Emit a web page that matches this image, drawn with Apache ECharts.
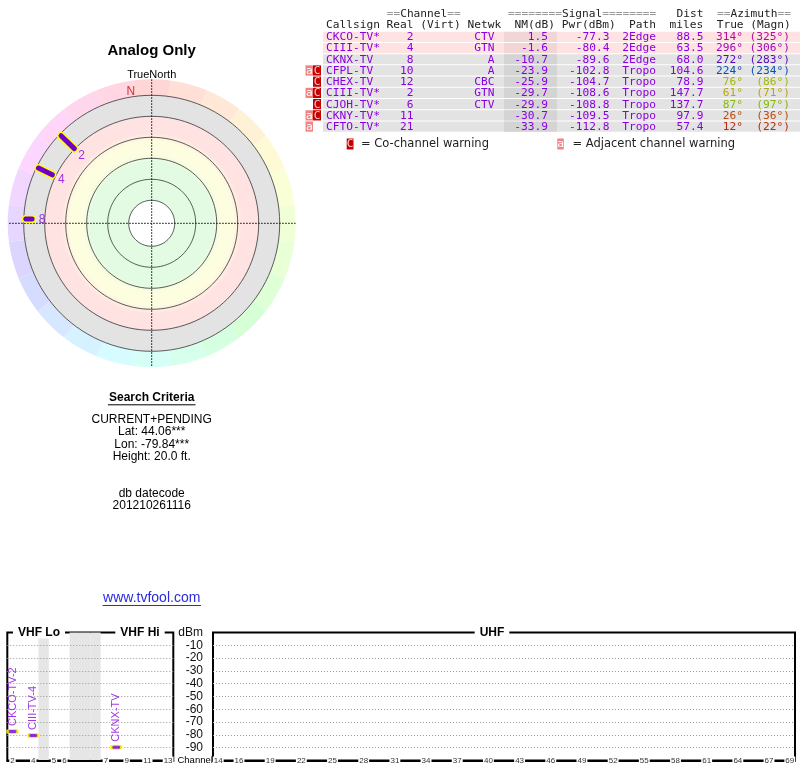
<!DOCTYPE html>
<html>
<head>
<meta charset="utf-8">
<script src="https://cdn.jsdelivr.net/npm/echarts@6/dist/echarts.min.js"></script>
<style>
  html, body { margin: 0; padding: 0; background: #fff; }
  #chart { width: 800px; height: 768px; }
</style>
</head>
<body>
<div id="chart"></div>
<script>
// station table
var callsigns = ['CKCO-TV*', 'CIII-TV*', 'CKNX-TV', 'CFPL-TV', 'CHEX-TV', 'CIII-TV*', 'CJOH-TV*', 'CKNY-TV*', 'CFTO-TV*'];
var realChannels = [2, 4, 8, 10, 12, 2, 6, 11, 21];
var networks = ['CTV', 'GTN', 'A', 'A', 'CBC', 'GTN', 'CTV', '', ''];
var nmDb = [1.5, -1.6, -10.7, -23.9, -25.9, -29.7, -29.9, -30.7, -33.9];
var pwrDbm = [-77.3, -80.4, -89.6, -102.8, -104.7, -108.6, -108.8, -109.5, -112.8];
var paths = ['2Edge', '2Edge', '2Edge', 'Tropo', 'Tropo', 'Tropo', 'Tropo', 'Tropo', 'Tropo'];
var distMiles = [88.5, 63.5, 68.0, 104.6, 78.9, 147.7, 137.7, 97.9, 57.4];
var azTrue = [314, 296, 272, 224, 76, 61, 87, 26, 12];
var azMagn = [325, 306, 283, 234, 86, 71, 97, 36, 22];
var adjWarn = [false, false, false, true, false, true, false, true, true];
var coWarn = [false, false, false, true, true, true, true, true, false];

// polar rings (NM dB), outermost is the plotting floor
var ringLevels = [-19, 2, 23, 44, 65, 86];

// spectrum axes
var vhfSlots = ['2', '3', '4', 'gap', '5', '6', 'fm1', 'fm2', 'fm3', '7', '8', '9', '10', '11', '12', '13'];
var vhfGaps = ['gap', 'fm1', 'fm2', 'fm3'];
var vhfTickLabels = ['2', '4', '5', '6', '7', '9', '11', '13'];
var uhfSlots = [];
for (var c = 14; c <= 69; c++) uhfSlots.push(String(c));
var uhfTickLabels = ['14', '16', '19', '22', '25', '28', '31', '34', '37', '40', '43', '46', '49', '52', '55', '58', '61', '64', '67', '69'];

var searchLines = ['CURRENT+PENDING', 'Lat: 44.06***', 'Lon: -79.84***', 'Height: 20.0 ft.'];
var dateLines = ['db datecode', '201210261116'];

var purple = '#8a00e0';
var markPurple = '#6f00cc';
var mono = '"DejaVu Sans Mono", monospace';
var sans = '"Liberation Sans", Arial, sans-serif';

function hueFor(az) {
  return az <= 135 ? az * 120 / 135 : 120 + (az - 135) * 240 / 225;
}
function azColor(az) { return 'hsl(' + hueFor(az).toFixed(0) + ',90%,38%)'; }
function ringColor(az) { return 'hsl(' + hueFor(az).toFixed(0) + ',100%,92%)'; }

var chart = echarts.init(document.getElementById('chart'));
var graphics = [];

function txt(str, x, y, font, fill, align, extra) {
  var st = { text: str, x: x, y: y, font: font, fill: fill, textAlign: align || 'center', textVerticalAlign: 'middle' };
  if (extra) for (var k in extra) st[k] = extra[k];
  graphics.push({ type: 'text', z: 100, silent: true, style: st });
}
function rect(x, y, w, h, fill) {
  graphics.push({ type: 'rect', z: 50, silent: true, shape: { x: x, y: y, width: w, height: h }, style: { fill: fill } });
}
function hline(x1, x2, y, color) {
  graphics.push({ type: 'line', z: 100, silent: true, shape: { x1: x1, y1: y, x2: x2, y2: y }, style: { stroke: color, lineWidth: 1 } });
}

// ---- table ----
var tFont = '11.2px ' + mono;
var charW = 6.74, tX = 326;
var head1 = [[9, '==', 1], [11, 'Channel', 0], [18, '==', 1], [27, '========', 1], [35, 'Signal', 0],
             [41, '========', 1], [52, 'Dist', 0], [58, '==', 1], [60, 'Azimuth', 0], [67, '==', 1]];
head1.forEach(function (h) {
  txt(h[1], tX + h[0] * charW, 14, tFont, h[2] ? '#9a9a9a' : '#222', 'left');
});
txt('Callsign Real (Virt) Netwk  NM(dB) Pwr(dBm)  Path  miles  True (Magn)', tX, 25.5, tFont, '#222', 'left');

var rowH = 11.22;
callsigns.forEach(function (cs, i) {
  var top = 31.7 + i * rowH, cy = 37.3 + i * rowH;
  var pink = nmDb[i] > -5;
  rect(323, top, 477, rowH - 1, pink ? '#ffe3e3' : '#e3e3e3');
  rect(504, top, 53, rowH - 1, pink ? '#f2d6d6' : '#d4d4d4');
  if (adjWarn[i]) { rect(305.5, top, 7.5, rowH - 1, '#f08484'); txt('a', 309.3, cy, tFont, '#fff'); }
  if (coWarn[i]) { rect(313, top, 8, rowH - 1, '#c40000'); txt('C', 317, cy, tFont, '#ffc8c8'); }
  var cells = [
    [cs, 326, 'left', purple],
    [String(realChannels[i]), 413.5, 'right', purple],
    [networks[i], 494.5, 'right', purple],
    [nmDb[i].toFixed(1), 548, 'right', purple],
    [pwrDbm[i].toFixed(1), 609.5, 'right', purple],
    [paths[i], 656, 'right', purple],
    [distMiles[i].toFixed(1), 703.5, 'right', purple],
    [azTrue[i] + '°', 743, 'right', azColor(azTrue[i])],
    ['(' + azMagn[i] + '°)', 790, 'right', azColor(azTrue[i])]
  ];
  cells.forEach(function (cl) { if (cl[0]) txt(cl[0], cl[1], cy, tFont, cl[3], cl[2]); });
});
rect(346.7, 138.5, 6.8, 11, '#c40000'); txt('C', 350.1, 144, tFont, '#ffc8c8');
txt('= Co-channel warning', 361, 144, '11.5px "DejaVu Sans", sans-serif', '#222', 'left');
rect(557.3, 138.5, 6.5, 11, '#f08484'); txt('a', 560.5, 144, tFont, '#fff');
txt('= Adjacent channel warning', 572.5, 144, '11.5px "DejaVu Sans", sans-serif', '#222', 'left');

// ---- polar captions and search criteria ----
txt('Analog Only', 151.7, 51, 'bold 15px ' + sans, '#000');
txt('TrueNorth', 151.7, 74.5, '11px ' + sans, '#000');
txt('Search Criteria', 151.7, 397.7, 'bold 12px ' + sans, '#000');
hline(108, 195.5, 404.8, '#000');
searchLines.forEach(function (s, i) { txt(s, 151.7, 419.5 + i * 12.4, '12px ' + sans, '#000'); });
dateLines.forEach(function (s, i) { txt(s, 151.7, 494 + i * 12, '12px ' + sans, '#000'); });
txt('www.tvfool.com', 151.7, 598, '14px ' + sans, '#2a2ae0');
hline(102.5, 201, 605.5, '#2a2ae0');

// ---- spectrum frame titles ----
var frameTitle = { backgroundColor: '#fff', padding: [0, 5] };
txt('VHF Lo', 39, 632.5, 'bold 12px ' + sans, '#000', 'center', frameTitle);
txt('VHF Hi', 140, 632.5, 'bold 12px ' + sans, '#000', 'center', frameTitle);
txt('UHF', 492, 632.5, 'bold 12px ' + sans, '#000', 'center', frameTitle);

// ---- series ----
var series = [];
var polarCenter = [151.7, 223.3];
var hidden = 'rgba(0,0,0,0)';

// signal bands behind the rings
series.push({
  type: 'pie', center: polarCenter, radius: [23, 128], silent: true, z: 1, startAngle: 90,
  label: { show: false }, labelLine: { show: false },
  itemStyle: { borderWidth: 0 },
  data: [{ value: 1, itemStyle: { color: new echarts.graphic.RadialGradient(0.5, 0.5, 0.5, [
    { offset: 0, color: '#e2fbe2' }, { offset: 0.48, color: '#e2fbe2' },
    { offset: 0.54, color: '#fdfde0' }, { offset: 0.64, color: '#fdfde0' },
    { offset: 0.71, color: '#ffe2e2' }, { offset: 0.834, color: '#ffe2e2' },
    { offset: 0.837, color: '#e3e3e3' }, { offset: 1, color: '#e3e3e3' }
  ]) } }]
});

// compass hue ring
var ringData = [];
for (var s = 0; s < 24; s++) ringData.push({ value: 1, itemStyle: { color: ringColor(s * 15) } });
series.push({
  type: 'pie', center: polarCenter, radius: [128, 144], silent: true, z: 1, startAngle: 97.5,
  label: { show: false }, labelLine: { show: false },
  itemStyle: { borderWidth: 0 }, data: ringData
});

// range rings
ringLevels.forEach(function (lv) {
  var pts = [];
  for (var a = 0; a <= 360; a += 3) pts.push([lv, a]);
  series.push({
    type: 'line', coordinateSystem: 'polar', data: pts, symbol: 'none', silent: true, z: 3,
    lineStyle: { color: '#333', width: 0.8 }
  });
});

// crosshair
[[0, 180], [90, 270]].forEach(function (p) {
  series.push({
    type: 'line', coordinateSystem: 'polar', symbol: 'none', silent: true, z: 3,
    data: [[-35, p[0]], [109, p[0]], [-35, p[1]]],
    lineStyle: { color: '#000', width: 1, type: [1.5, 1.5] }
  });
});

// compass N
series.push({
  type: 'scatter', coordinateSystem: 'polar', symbolSize: 1, silent: true, z: 4,
  itemStyle: { color: hidden },
  data: [{ value: [-24, 351], name: 'N' }],
  label: { show: true, position: 'inside', formatter: '{b}', color: '#d00000', fontSize: 12, fontFamily: sans }
});

// stations strong enough to plot
var shown = [];
callsigns.forEach(function (cs, i) { if (nmDb[i] >= ringLevels[0]) shown.push(i); });

shown.forEach(function (i) {
  var seg = [[nmDb[i], azTrue[i]], [-17, azTrue[i]]];
  series.push({ type: 'line', coordinateSystem: 'polar', data: seg, symbol: 'none', silent: true, z: 5,
    lineStyle: { color: '#ffff00', width: 8, cap: 'round' } });
  series.push({ type: 'line', coordinateSystem: 'polar', data: seg, symbol: 'none', silent: true, z: 6,
    lineStyle: { color: markPurple, width: 5, cap: 'round' } });
});
series.push({
  type: 'scatter', coordinateSystem: 'polar', symbolSize: 1, silent: true, z: 7,
  itemStyle: { color: hidden },
  data: shown.map(function (i) { return { value: [nmDb[i] + 10, azTrue[i]], name: String(realChannels[i]) }; }),
  label: { show: true, position: 'inside', formatter: '{b}', color: purple, fontSize: 12, fontFamily: sans }
});

// spectrum
series.push({
  type: 'bar', xAxisIndex: 0, yAxisIndex: 0, silent: true, z: 1, barWidth: '100%',
  itemStyle: { color: '#e6e6e6' },
  data: vhfSlots.map(function (sl) { return vhfGaps.indexOf(sl) >= 0 ? -100 : '-'; })
});
function specPoints(uhf) {
  return shown.filter(function (i) { return uhf ? realChannels[i] >= 14 : realChannels[i] <= 13; })
    .map(function (i) {
      return { value: [String(realChannels[i]), pwrDbm[i]], name: callsigns[i].replace('*', '-' + realChannels[i]) };
    });
}
var specStyle = {
  type: 'scatter', symbol: 'roundRect', symbolSize: [10, 4], silent: true, z: 5,
  itemStyle: { color: markPurple, borderColor: '#ffff00', borderWidth: 1.6 },
  label: { show: true, position: 'top', rotate: 90, align: 'left', verticalAlign: 'middle', distance: 3,
    formatter: '{b}', color: purple, fontSize: 11, fontFamily: sans }
};
series.push(Object.assign({ xAxisIndex: 0, yAxisIndex: 0, data: specPoints(false) }, specStyle));
series.push(Object.assign({ xAxisIndex: 1, yAxisIndex: 1, data: specPoints(true) }, specStyle));

function chanAxis(grid, slots, ticks, extra) {
  var ax = {
    gridIndex: grid, type: 'category', data: slots, boundaryGap: true, z: 4,
    axisLine: { onZero: false, lineStyle: { color: '#000', width: 2 } },
    axisTick: { show: false },
    splitLine: { show: false },
    axisLabel: {
      interval: function (idx, val) { return ticks.indexOf(val) >= 0; },
      fontSize: 8, color: '#333', fontFamily: sans, margin: 0, verticalAlign: 'middle',
      backgroundColor: '#fff', padding: [0, 1]
    }
  };
  if (extra) for (var k in extra) ax[k] = extra[k];
  return ax;
}
function dbAxis(grid, labels) {
  return {
    gridIndex: grid, type: 'value', min: -100, max: 0, interval: 10, z: 3,
    axisLine: { show: false }, axisTick: { show: false },
    splitLine: { showMinLine: false, showMaxLine: false, lineStyle: { color: '#999', width: 1, type: [1, 2] } },
    axisLabel: labels ? {
      margin: 10, fontSize: 12, color: '#111', fontFamily: sans,
      formatter: function (v) { return v === 0 ? 'dBm' : (v === -100 ? '' : String(v)); }
    } : { show: false }
  };
}

var option = {
  animation: false,
  backgroundColor: '#fff',
  polar: { center: polarCenter, radius: 144 },
  angleAxis: { type: 'value', min: 0, max: 360, startAngle: 90, clockwise: true, show: false },
  radiusAxis: { type: 'value', min: -35, max: 109, inverse: true, show: false },
  grid: [
    { left: 7.3, top: 632.5, width: 166, height: 128, show: true, borderColor: '#000', borderWidth: 2 },
    { left: 213, top: 632.5, width: 582, height: 128, show: true, borderColor: '#000', borderWidth: 2 }
  ],
  xAxis: [
    chanAxis(0, vhfSlots, vhfTickLabels, {
      name: 'Channel', nameLocation: 'end', nameGap: 3,
      nameTextStyle: { fontSize: 9.5, color: '#000', fontFamily: sans, verticalAlign: 'middle', align: 'left' }
    }),
    chanAxis(1, uhfSlots, uhfTickLabels)
  ],
  yAxis: [dbAxis(0, false), dbAxis(1, true)],
  graphic: graphics,
  series: series
};
chart.setOption(option);
</script>
</body>
</html>
